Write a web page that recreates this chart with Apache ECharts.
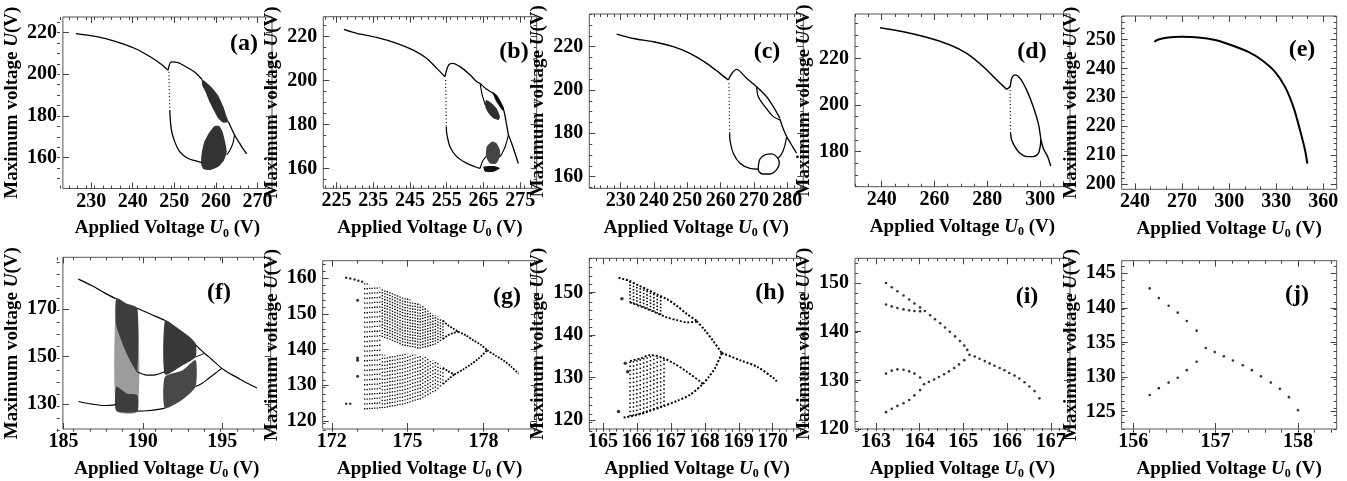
<!DOCTYPE html>
<html>
<head>
<meta charset="UTF-8">
<title>Bifurcation diagrams</title>
<script src="https://cdn.jsdelivr.net/npm/echarts@6/dist/echarts.min.js"></script>
<style>html,body{margin:0;padding:0;background:#fff}#main{width:1347px;height:481px}</style>
</head>
<body>
<div id="main"></div>
<script>
// ---------- axes of the ten panels ----------
var panelNames = ['(a)','(b)','(c)','(d)','(e)','(f)','(g)','(h)','(i)','(j)'];
var xRanges = [[223.2,273.5],[221.4,279.5],[220.6,284.8],[229.9,311.3],[231.5,368.5],[184.96,198.06],[171.64,180.11],[164.6,170.95],[162.52,167.44],[155.86,158.47]];
var yRanges = [[145.2,227.5],[151.1,229.1],[154.6,235.1],[165,239],[198.2,258.1],[119.5,191.9],[117.7,164.9],[117.9,158.1],[120,155.08],[122.5,146.8]];
var xTicks = [[230,240,250,260,270],[225,235,245,255,265,275],[230,240,250,260,270,280],[240,260,280,300],[240,270,300,330,360],[185,190,195],[172,175,178],[165,166,167,168,169,170],[163,164,165,166,167],[156,157,158]];
var yTicks = [[160,180,200,220],[160,180,200,220],[160,180,200,220],[180,200,220],[200,210,220,230,240,250],[130,150,170],[120,130,140,150,160],[120,130,140,150],[120,130,140,150],[125,130,135,140,145]];
var xMinorStep = [2,2,2,5,10,1,1,0.2,0.2,0.2];
var yMinorStep = [5,5,5,5,2,5,2,2,2,1];

// ---------- (a) ----------
var aMain = [[226.3,219.5],[230.2,218.4],[234.1,216.8],[238.0,214.4],[241.1,211.9],[244.2,208.4],[246.6,205.2],[248.5,202.0]];
var aDrop = [[248.7,201.2],[248.8,192],[248.9,182.8]];
var aLow = [[248.9,182.8],[249.3,173.2],[250.1,167.7],[251.3,162.9],[253.2,159.7],[255.2,158.4],[256.7,157.6]];
var aUp = [[248.5,202.0],[249.3,206],[250.9,205.6],[252.8,203.6],[254.8,201.2],[256.7,197.5]];
var aBlobUp = [[256.7,197.5],[258.7,194.3],[260.5,190],[261.8,184.4],[262.6,179.6],[263,177.2],[261.8,176.8],[260.6,178.8],[259.5,182.8],[258.3,187.6],[257.5,191.6],[256.7,194.8]];
var aBlobLo = [[256.5,160.5],[257.1,166.9],[258.3,171.7],[259.7,175.2],[260.8,175.2],[261.6,172.4],[262.2,167.7],[262.6,162.9],[262,158.9],[260.6,155.7],[258.7,154.1],[257.1,154.4],[256.5,156.5]];
var aTail = [[263.0,177.2],[264.5,170.9],[265.9,166.3],[267.4,161.8]];
var aSide = [[264.5,170.9],[264.1,166.9],[263.4,163.7],[262.6,161.3]];

// ---------- (b) ----------
var bMain = [[227,223.3],[230.5,221.5],[235.9,219.7],[241.4,217],[245.9,213.9],[249.5,210.2],[252.3,205.6],[254.5,201.8]];
var bDrop = [[254.7,200.3],[254.8,190],[254.9,179.1]];
var bLow = [[254.9,179.1],[255,176.1],[255.9,170],[257.7,165.5],[260.5,162.4],[262.7,160.9],[264.1,160.2]];
var bUp = [[254.5,201.8],[255.5,207.1],[256.6,207.9],[258.6,206.4],[261.4,202.6],[263.2,199.5],[264.1,198.8]];
var bOuter = [[264.1,198.8],[265.8,196.2],[267.7,194.2],[269.4,190.5],[270.5,186.7],[271.2,181],[271.8,175.3]];
var bInner = [[264.1,198.8],[264.6,194],[265.5,189]];
var bBlobUp = [[265.7,191.2],[267.3,189.7],[268.6,187.4],[269.5,183.6],[269.1,182.1],[267.7,182.9],[266.4,185.2],[265.5,188.2]];
var bStreak = [[267.5,194.8],[268.8,193.2],[270.6,187.5],[270.2,186.5],[268.5,190.5]];
var bBlobLo = [[265.9,170],[267.3,172.3],[268.6,171.5],[269.5,168.5],[269.5,165.5],[268.5,162.4],[266.8,162.4],[265.7,165.5]];
var bStreakLo = [[265,160.9],[267.7,161.2],[269.5,160.2],[267.7,158.6],[265.5,158.6]];
var bLowLoop = [[264.1,160.2],[264.8,163.5],[265.7,165.5]];
var bTail = [[271.8,175.3],[272.7,171.5],[273.6,167],[274.5,162.4]];
var bSide = [[271.8,175.3],[270.9,170],[270,166.7],[269.5,165.5]];

// ---------- (c) ----------
var cMain = [[228.8,225.8],[233.8,223.8],[239.8,222.3],[245.8,220],[250.8,216.9],[255.8,212.3],[259.8,207.7],[262.3,204.6]];
var cDrop = [[262.5,203.1],[262.6,192],[262.7,180]];
var cLow = [[262.7,180],[262.8,176.9],[263.8,170.8],[265.8,166.2],[268.8,163.8],[271.3,163.5]];
var cUp = [[262.3,204.6],[263.3,207.5],[264.8,209.5],[267.8,205.4],[270.8,201.5]];
var cLoopA = [[270.8,201.5],[273.8,196.9],[275.8,192.3],[277.8,186.9]];
var cLoopB = [[270.8,201.5],[271.3,196.9],[273.3,192.3],[275.8,187.7],[277.8,186.2]];
var cDown = [[277.8,186.5],[278.8,182],[279.8,178.5]];
var cTail = [[279.8,178.5],[281.3,174.6],[282.8,170.8]];
var cSide = [[279.8,178.5],[279.2,174],[278.3,170.5],[277.3,168.6]];
var cRing = [[271.3,163.5],[271.8,168.1],[273.3,170],[275.3,170.5],[277,168.9],[277.6,166.3],[276.8,163.2],[274.8,161.2],[272.6,161.2],[271.5,162.3],[271.3,163.5]];

// ---------- (d) ----------
var dMain = [[239.4,233.1],[248.2,231.4],[257,229],[265.9,225.7],[272.2,222.1],[278.5,216.4],[283.6,210.7],[287.3,206.7]];
var dDrop = [[288.6,207.9],[288.7,198],[288.8,187.9]];
var dLow = [[288.8,187.9],[289.2,185],[290.5,182.1],[292.4,179.3],[294.9,177.9],[297.4,177.9],[299.3,179.3],[300,182.1],[300.3,185]];
var dUp = [[287.3,206.7],[288.6,207.9],[289.2,211.4],[290.5,212.9],[292.4,211.4],[294.9,206.4],[297.4,199.3],[299.3,192.1],[300.3,185]];
var dTail = [[300.3,185],[301.2,181.4],[302.8,177.9],[304,173.9]];

// ---------- (e) ----------
var eMain = [[252.3,249.2],[254.9,250],[261.2,250.7],[269.7,250.9],[280.4,250.7],[291,249.8],[301.6,248],[312.2,245.7],[320.7,242.9],[329.2,238.8],[335.6,233.6],[340.9,226.7],[345.1,218.7],[348.3,211.8],[349.8,207.1]];

// ---------- (f) ----------
var fUpL = [[185.94,182.7],[186.8,179.9],[187.61,176.8],[188.3,174.4]];
var fLoL = [[185.94,131.1],[186.8,130.0],[187.61,129.4],[188.3,129.8]];
var fR1Sparse = [[188.33,174.6],[189.0,172.3],[189.65,170.4],[189.65,126.9],[188.33,127.2]];
var fR1DenseUp = [[188.33,174.6],[189.0,172.3],[189.65,170.4],[189.65,143.6],[189.3,147],[188.9,152.5],[188.33,163]];
var fR1DenseLo = [[188.33,137.4],[189.0,134.5],[189.65,133.8],[189.65,126.9],[188.33,127.2]];
var fMidTop = [[189.65,170.4],[190.26,168.6],[190.88,166.8],[191.39,165.3]];
var fMidU = [[189.65,143.6],[190.26,142.2],[190.67,142.2],[191.08,142.9],[191.39,143.6]];
var fMidBot = [[189.65,127.0],[190.26,127.2],[190.88,127.7],[191.39,128.3]];
var fR2Up = [[191.39,165.3],[192.1,162.5],[192.92,158.5],[193.33,155.5],[193.33,149.9],[192.51,146.4],[191.39,142.5]];
var fR2Lo = [[191.39,141.5],[192.51,144.3],[193.33,148.5],[193.33,137.4],[192.51,131.9],[191.39,128.3]];
var fRUp = [[193.33,155.0],[193.74,152.3],[194.14,150.0],[194.55,147.6],[194.96,145.2]];
var fRSm = [[193.33,149.9],[193.6,150.6],[193.9,151.4]];
var fRLo = [[193.33,137.4],[193.74,138.8],[194.14,140.8],[194.55,142.9],[194.96,145.0]];
var fTail = [[194.96,145.1],[195.37,143.3],[195.78,141.8],[196.18,140.3],[196.59,138.8],[197.2,136.8]];

// ---------- (g) ----------
var gTopL = [[172.57,160.1],[172.73,159.9],[172.9,159.6],[173.05,159.3],[173.2,159.0]];
var gBotL = [[172.57,124.8],[172.73,124.8]];
var gIso = [[173.02,153.8],[173.02,137.6],[173.02,137.0],[173.02,132.5]];
var gSparseCols = [[173.3,123.2,158.8],[173.4,123.2,158.6],[173.5,123.3,158.4],[173.6,123.3,158.1],[173.7,123.4,157.9],[173.8,123.4,157.7],[173.9,123.5,157.4]];
var gUpCols = [[174.0,143.5,157.2],[174.1,143.2,157.0],[174.2,143.0,156.8],[174.3,142.7,156.5],[174.4,142.4,156.2],[174.5,142.1,155.9],[174.6,141.8,155.6],[174.7,141.5,155.3],[174.8,141.2,155.0],[174.9,141.0,154.7],[175.0,140.9,154.3],[175.1,140.7,154.0],[175.2,140.6,153.6],[175.3,140.5,153.3],[175.4,140.3,152.9],[175.5,140.2,152.6],[175.6,140.4,152.1],[175.7,140.6,151.6],[175.8,140.8,151.2],[175.9,141.0,150.7],[176.0,141.2,150.2],[176.1,141.4,149.7],[176.2,141.8,149.2],[176.3,142.4,148.6],[176.4,142.9,148.1]];
var gLoCols = [[174.0,123.6,138.6],[174.1,123.6,138.5],[174.2,123.7,138.4],[174.3,123.9,138.5],[174.4,124.0,138.6],[174.5,124.1,138.7],[174.6,124.3,138.8],[174.7,124.4,138.8],[174.8,124.5,138.9],[174.9,124.7,138.9],[175.0,124.9,138.8],[175.1,125.1,138.8],[175.2,125.4,138.7],[175.3,125.6,138.6],[175.4,125.8,138.5],[175.5,126.0,138.4],[175.6,126.4,138.1],[175.7,126.8,137.9],[175.8,127.2,137.6],[175.9,127.6,137.3],[176.0,128.0,137.0],[176.1,128.3,136.8],[176.2,128.9,136.3],[176.3,129.6,135.6],[176.4,130.3,134.9]];
var gUpEyeA = [[176.4,148.1],[176.6,146.8],[176.8,145.9],[177.0,145.0]];
var gUpEyeB = [[176.4,142.9],[176.6,144.0],[176.8,144.6],[177.0,145.0]];
var gUpP2 = [[177.0,145.0],[177.3,144.0],[177.6,142.6],[177.9,141.3],[178.15,139.8]];
var gLoEyeA = [[176.4,134.9],[176.6,133.9],[176.85,133.0]];
var gLoEyeB = [[176.4,130.3],[176.6,131.6],[176.85,133.0]];
var gLoP2 = [[176.85,133.0],[177.2,134.4],[177.5,135.8],[177.8,137.4],[178.15,139.8]];
var gTail = [[178.15,139.8],[178.5,138.2],[178.8,136.9],[179.1,135.2],[179.39,133.2]];

// ---------- (h) ----------
var hTop = [[165.46,153.5],[165.61,153.2],[165.8,152.7],[166.0,151.9],[166.29,150.8],[166.59,149.6],[166.88,148.5],[167.18,146.9],[167.47,145.0],[167.76,143.4]];
var hUpIn = [[165.8,147.7],[166.2,146.5],[166.5,145.5],[166.88,144.2],[167.2,143.5],[167.47,143.0],[167.76,143.2]];
var hUpP2 = [[167.76,143.3],[168.0,141.2],[168.25,138.6],[168.5,135.8]];
var hLoIn = [[165.8,133.9],[166.1,134.5],[166.39,135.3],[166.69,134.9],[167.08,133.4],[167.47,131.4],[167.86,129.1],[167.95,128.5]];
var hLoEnv = [[165.61,120.6],[166.0,121.2],[166.39,122.2],[166.78,123.3],[167.18,124.5],[167.57,126.0],[167.95,128.5]];
var hLoP2 = [[167.95,128.5],[168.1,130.0],[168.3,132.2],[168.5,135.8]];
var hTail = [[168.5,135.8],[169.04,134.1],[169.53,132.6],[170.02,129.9],[170.12,129.1]];
var hIso = [[165.46,122.0],[165.56,148.6],[165.66,133.4],[165.73,131.4]];
var hUpCols = [[165.8,147.7,152.7],[165.9,147.4,152.3],[166.0,147.1,151.9],[166.1,146.8,151.5],[166.2,146.5,151.2],[166.3,146.2,150.8],[166.4,145.8,150.4],[166.5,145.5,150.0],[166.6,145.1,149.6],[166.7,144.8,149.2]];
var hLoCols = [[165.8,120.9,133.9],[165.9,121.0,134.2],[166.0,121.2,134.4],[166.1,121.4,134.5],[166.2,121.7,134.8],[166.3,121.9,135.0],[166.4,122.2,135.3],[166.5,122.5,135.2],[166.6,122.8,135.0],[166.7,123.0,134.9],[166.8,123.3,134.5]];

// ---------- (i) ----------
var iUU = [[163.23,150.0],[163.36,149.12],[163.49,148.31],[163.63,147.43],[163.76,146.61],[163.88,145.8],[164.01,144.99],[164.12,144.25]];
var iUL = [[163.23,145.6],[163.36,145.2],[163.49,144.85],[163.63,144.58],[163.76,144.38],[163.88,144.25],[164.01,144.18]];
var iUM = [[164.24,143.37],[164.35,142.55],[164.47,141.74],[164.58,140.86],[164.69,139.98],[164.81,139.03],[164.92,138.08],[165.02,137.14],[165.09,136.26]];
var iLU = [[163.23,131.38],[163.36,131.99],[163.49,132.26],[163.63,132.19],[163.76,131.85],[163.88,131.38],[164.01,130.57]];
var iLL = [[163.23,123.46],[163.36,124.14],[163.49,124.75],[163.63,125.29],[163.76,125.96],[163.88,126.91],[164.01,127.99]];
var iLM = [[164.1,129.21],[164.21,129.69],[164.33,130.16],[164.44,130.7],[164.56,131.25],[164.67,131.85],[164.79,132.53],[164.9,133.28],[165.02,134.15]];
var iTail = [[165.14,135.24],[165.26,134.9],[165.37,134.43],[165.49,133.95],[165.6,133.48],[165.71,133.0],[165.83,132.53],[165.94,132.06],[166.05,131.51],[166.17,130.97],[166.28,130.37],[166.4,129.62],[166.51,128.74],[166.63,127.79],[166.74,126.3]];

// ---------- (j) ----------
var jDown = [[156.2,142.8],[156.31,141.4],[156.43,140.3],[156.54,139.3],[156.65,138.1],[156.77,136.7],[156.88,134.2],[156.99,133.6],[157.1,133.0],[157.21,132.4],[157.33,131.7],[157.44,131.0],[157.55,130.1],[157.67,129.2],[157.78,128.3],[157.89,127.1],[158.0,125.2]];
var jUp = [[156.2,127.4],[156.31,128.4],[156.43,129.2],[156.54,129.9],[156.65,131.0],[156.77,132.2]];

// ---------- layout ----------
var rects = [[57,17,215,171.5],[323.3,16.7,213.4,171.6],[589.3,14,214,174.3],[855,14,215,172.7],[1121.7,16,215,173.3],
             [56.7,257.3,214,174.4],[322.7,260.7,214,171],[589.3,258.3,215.7,173.4],[855,258.3,215,172.7],[1121.7,260.7,215,172]];
var labelPos = [[244,44],[514,52],[767,52],[1032,52],[1302,50],[219,293],[507,297],[770,293],[1027,297],[1297,295]];
var FONT = 'Liberation Serif';

function minors(r, step) {
    var out = [];
    var v = Math.ceil(r[0] / step - 1e-9) * step;
    while (v <= r[1] + 1e-9) { out.push(Math.round(v * 1000) / 1000); v += step; }
    return out;
}

function axis(grid, pos, range, ticks, len, labels) {
    return {
        type: 'value', gridIndex: grid, position: pos, min: range[0], max: range[1],
        axisLine: {show: false}, splitLine: {show: false},
        axisTick: {show: true, inside: true, length: len, customValues: ticks, lineStyle: {color: '#444', width: 1}},
        axisLabel: {show: labels, customValues: ticks, fontFamily: FONT, fontWeight: 'bold', fontSize: 20, color: '#000',
                    margin: (pos === 'bottom') ? 3 : 6}
    };
}

var grids = [], xAxes = [], yAxes = [], series = [], graphics = [];
var richStyle = {
    i: {fontFamily: FONT, fontWeight: 'bold', fontStyle: 'italic', fontSize: 19, color: '#000', lineHeight: 22},
    s: {fontFamily: FONT, fontWeight: 'bold', fontSize: 12, color: '#000', lineHeight: 12, verticalAlign: 'bottom'}
};

for (var p = 0; p < 10; p++) {
    var r = rects[p];
    grids.push({left: r[0], top: r[1], width: r[2], height: r[3], show: true, borderColor: '#555', borderWidth: 1});
    grids.push({left: r[0], top: r[1], width: r[2], height: r[3], show: false});
    var xm = minors(xRanges[p], xMinorStep[p]), ym = minors(yRanges[p], yMinorStep[p]);

    var xb = axis(2 * p, 'bottom', xRanges[p], xTicks[p], 6, true);
    xb.name = 'Applied Voltage {i|U}{s|0} (V)';
    xb.nameLocation = 'middle';
    xb.nameGap = 29;
    xb.nameTextStyle = {fontFamily: FONT, fontWeight: 'bold', fontSize: 19, color: '#000', lineHeight: 22, rich: richStyle};
    xAxes.push(xb, axis(2 * p, 'top', xRanges[p], xTicks[p], 6, false),
               axis(2 * p + 1, 'bottom', xRanges[p], xm, 3, false), axis(2 * p + 1, 'top', xRanges[p], xm, 3, false));

    var yl = axis(2 * p, 'left', yRanges[p], yTicks[p], 6, true);
    yl.name = 'Maximum voltage {i|U}(V)';
    yl.nameLocation = 'middle';
    yl.nameGap = 34;
    yl.nameTextStyle = {fontFamily: FONT, fontWeight: 'bold', fontSize: 19, color: '#000', lineHeight: 22, rich: richStyle};
    yAxes.push(yl, axis(2 * p, 'right', yRanges[p], yTicks[p], 6, false),
               axis(2 * p + 1, 'left', yRanges[p], ym, 3, false), axis(2 * p + 1, 'right', yRanges[p], ym, 3, false));

    graphics.push({type: 'text', x: labelPos[p][0], y: labelPos[p][1], z: 10,
        style: {text: panelNames[p], font: 'bold 24px "Liberation Serif"', fill: '#000', align: 'center', verticalAlign: 'middle'}});
}

/* 曲线 */
function curve(p, pts, w, dash, smooth) {
    series.push({type: 'line', xAxisIndex: 4 * p, yAxisIndex: 4 * p, data: pts, symbol: 'none',
        smooth: smooth === undefined ? 0.3 : smooth, lineStyle: {color: '#000', width: w, type: dash || 'solid'},
        silent: true, animation: false, z: 3});
}
/* 混沌区 */
function blob(p, pts, fill, op) {
    series.push({type: 'custom', xAxisIndex: 4 * p, yAxisIndex: 4 * p, data: [pts[0]], silent: true, animation: false, z: 2,
        renderItem: function (params, api) {
            return {type: 'polygon', shape: {points: pts.map(function (d) { return api.coord(d); }), smooth: 0.2},
                    style: {fill: fill, opacity: op}};
        }});
}
/* 点列 */
function cols(p, data, dash, w) {
    series.push({type: 'custom', xAxisIndex: 4 * p, yAxisIndex: 4 * p, data: data, encode: {x: 0, y: [1, 2]},
        silent: true, animation: false, z: 2,
        renderItem: function (params, api) {
            var a = api.coord([api.value(0), api.value(1)]), b = api.coord([api.value(0), api.value(2)]);
            return {type: 'line', shape: {x1: a[0], y1: a[1], x2: b[0], y2: b[1]},
                    style: {stroke: '#000', lineWidth: w, lineDash: dash}};
        }});
}
function dots(p, pts, size) {
    series.push({type: 'scatter', xAxisIndex: 4 * p, yAxisIndex: 4 * p, data: pts, symbolSize: size,
        itemStyle: {color: '#000'}, silent: true, animation: false, z: 4});
}

var DOT = [1, 2.5];
// (a)
curve(0, aMain, 1.3); curve(0, aDrop, 1.2, DOT, 0); curve(0, aLow, 1.3); curve(0, aUp, 1.3);
blob(0, aBlobUp, '#2e2e2e', 1); blob(0, aBlobLo, '#333', 1);
curve(0, aTail, 1.3); curve(0, aSide, 1.1);
// (b)
curve(1, bMain, 1.3); curve(1, bDrop, 1.2, DOT, 0); curve(1, bLow, 1.3); curve(1, bUp, 1.3);
curve(1, bOuter, 1.3); curve(1, bInner, 1.1); curve(1, bLowLoop, 1.1);
blob(1, bBlobUp, '#2e2e2e', 1); blob(1, bStreak, '#111', 1); blob(1, bBlobLo, '#444', 1); blob(1, bStreakLo, '#111', 1);
curve(1, bTail, 1.3); curve(1, bSide, 1.1);
// (c)
curve(2, cMain, 1.4); curve(2, cDrop, 1.2, DOT, 0); curve(2, cLow, 1.3); curve(2, cUp, 1.3);
curve(2, cLoopA, 1.3); curve(2, cLoopB, 1.3); curve(2, cDown, 1.3); curve(2, cTail, 1.3); curve(2, cSide, 1.2);
curve(2, cRing, 1.3, null, 0.4);
// (d)
curve(3, dMain, 1.5); curve(3, dDrop, 1.2, DOT, 0); curve(3, dLow, 1.4); curve(3, dUp, 1.4); curve(3, dTail, 1.4);
// (e)
curve(4, eMain, 2);
// (f)
blob(5, fR1Sparse, '#9c9c9c', 1); blob(5, fR1DenseUp, '#3d3d3d', 1); blob(5, fR1DenseLo, '#3d3d3d', 1);
blob(5, fR2Up, '#383838', 1); blob(5, fR2Lo, '#484848', 1);
curve(5, fUpL, 1.2); curve(5, fLoL, 1.2); curve(5, fMidTop, 1.2); curve(5, fMidU, 1.1); curve(5, fMidBot, 1.2);
curve(5, fRUp, 1.1); curve(5, fRSm, 1); curve(5, fRLo, 1.1); curve(5, fTail, 1.2);
// (g)
dots(6, gTopL, 2.5); dots(6, gBotL, 2.5); dots(6, gIso, 3);
cols(6, gSparseCols, [1.3, 3.5], 1.3); cols(6, gUpCols, [1.3, 1.6], 1.4); cols(6, gLoCols, [1.3, 2.2], 1.3);
var GD = [1.8, 1.4];
curve(6, gUpEyeA, 1.8, GD); curve(6, gUpEyeB, 1.8, GD); curve(6, gUpP2, 1.8, GD);
curve(6, gLoEyeA, 1.8, GD); curve(6, gLoEyeB, 1.8, GD); curve(6, gLoP2, 1.8, GD); curve(6, gTail, 1.8, GD);
// (h)
var HD = [2, 1.8];
cols(7, hUpCols, [1.5, 1.8], 1.6); cols(7, hLoCols, [1.5, 2.6], 1.5);
curve(7, hTop, 2, HD); curve(7, hUpIn, 1.8, HD); curve(7, hUpP2, 2, HD);
curve(7, hLoIn, 1.8, HD); curve(7, hLoEnv, 2, HD); curve(7, hLoP2, 2, HD); curve(7, hTail, 2, HD);
dots(7, hIso, 3.5);
// (i)
dots(8, iUU, 2.6); dots(8, iUL, 2.6); dots(8, iUM, 2.6); dots(8, iLU, 2.6); dots(8, iLL, 2.6); dots(8, iLM, 2.6); dots(8, iTail, 2.6);
// (j)
dots(9, jDown, 2.6); dots(9, jUp, 2.6);

var chart = echarts.init(document.getElementById('main'), null, {renderer: 'canvas'});
chart.setOption({
    animation: false,
    backgroundColor: '#fff',
    grid: grids, xAxis: xAxes, yAxis: yAxes,
    series: series,
    graphic: graphics
});
window.addEventListener('resize', function () { chart.resize(); });
</script>
</body>
</html>
